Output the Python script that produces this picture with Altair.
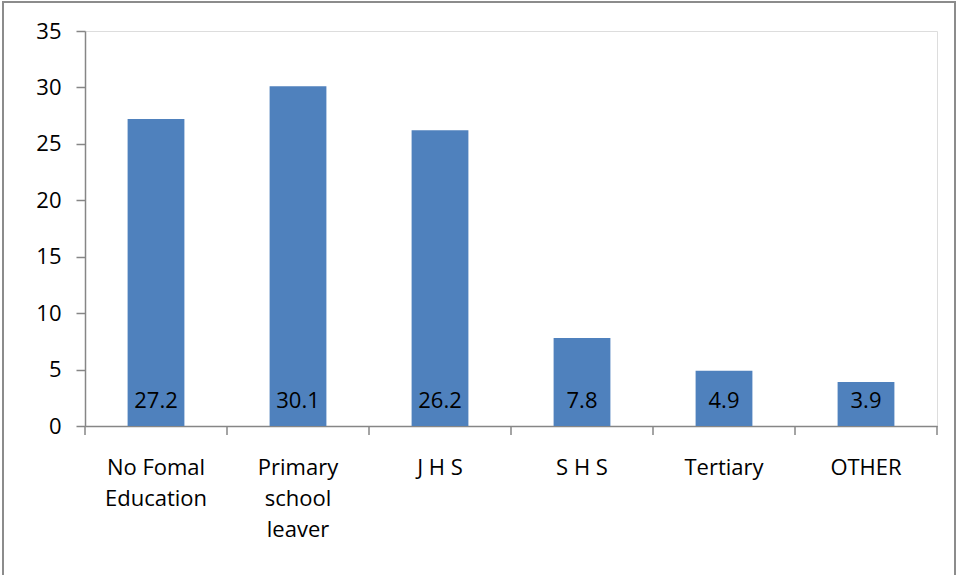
import altair as alt
import pandas as pd

# Education level shares (%)
categories = ["No Fomal\nEducation", "Primary\nschool\nleaver", "J H S", "S H S", "Tertiary", "OTHER"]
values = [27.2, 30.1, 26.2, 7.8, 4.9, 3.9]
y_ticks = [0, 5, 10, 15, 20, 25, 30, 35]
tick_positions = [0, 1, 2, 3, 4, 5, 6]

FONT = "Open Sans"
FS = 22
BAR = "#4F81BD"
AXIS = "#868686"

df = pd.DataFrame({"level": categories, "pct": values})
ticks_df = pd.DataFrame({"pos": tick_positions})

x_band = alt.X(
    "level:N",
    sort=categories,
    scale=alt.Scale(paddingInner=0.6, paddingOuter=0.3),
    axis=alt.Axis(
        title=None,
        labelAngle=0,
        ticks=False,
        domainColor=AXIS,
        domainWidth=1.5,
        labelFont=FONT,
        labelFontSize=FS,
        labelColor="#000000",
        labelPadding=31,
        labelLineHeight=31,
        labelBaseline="top",
        labelExpr="split(datum.label, '\\n')",
    ),
)

y_enc = alt.Y(
    "pct:Q",
    scale=alt.Scale(domain=[0, 35], nice=False),
    axis=alt.Axis(
        title=None,
        values=y_ticks,
        grid=False,
        tickSize=9,
        tickColor=AXIS,
        tickWidth=1.5,
        domainColor=AXIS,
        domainWidth=1.5,
        labelFont=FONT,
        labelFontSize=FS,
        labelColor="#000000",
        labelPadding=15,
    ),
)

bars = alt.Chart(df).mark_bar(color=BAR).encode(x=x_band, y=y_enc)

# value labels sit at the foot of each bar
labels = alt.Chart(df).mark_text(
    font=FONT, fontSize=FS, color="#000000", baseline="alphabetic", dy=-18
).encode(
    x=alt.X("level:N", sort=categories),
    y=alt.datum(0),
    text=alt.Text("pct:Q", format=".1f"),
)

# category separator ticks below the x axis
sep_ticks = alt.Chart(ticks_df).mark_rule(color=AXIS, strokeWidth=1.5).encode(
    x=alt.X("pos:Q", scale=alt.Scale(domain=[0, 6], nice=False), axis=None),
    y=alt.value(395),
    y2=alt.value(404),
)

frame = alt.Chart(ticks_df).mark_rect(
    fill=None, stroke="#8c8c8c", strokeWidth=2, clip=False
).encode(
    x=alt.value(-82), x2=alt.value(870), y=alt.value(-29), y2=alt.value(600)
)

main = alt.layer(bars, labels)
chart = (
    alt.layer(main, sep_ticks, frame)
    .resolve_scale(x="independent")
    .properties(
        width=852,
        height=395,
        autosize=alt.AutoSizeParams(type="none"),
        padding={"left": 85, "top": 31, "right": 29, "bottom": 149},
    )
    .configure_view(stroke=None)
    .configure(background="white")
)

chart.save("out.html", embed_options={"renderer": "svg", "actions": False})
